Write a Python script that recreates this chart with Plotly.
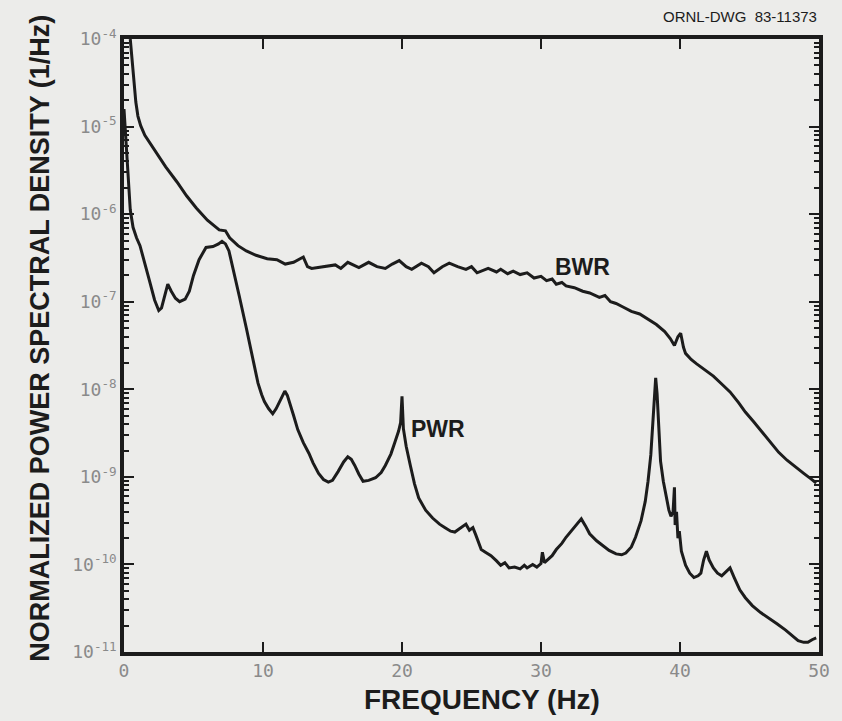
import plotly.graph_objects as go

# ---------------- data ----------------
# BWR spectrum: frequency (Hz) and log10 of normalized PSD (1/Hz)
bwr_freq = [0.45, 0.55, 0.7, 0.85, 1.0, 1.2, 1.5, 1.9, 2.35, 3.0, 3.8, 4.5, 5.2, 6.0, 6.85, 7.3,
            7.6, 8.2, 8.8, 9.5, 10.3, 11.0, 11.6, 12.2, 12.9, 13.2, 13.5, 14.2, 15.2, 15.6,
            16.1, 16.9, 17.6, 18.2, 18.8, 19.3, 19.8, 20.3, 20.7, 21.4, 21.9, 22.3, 22.9, 23.4,
            24.0, 24.6, 25.0, 25.4, 26.2, 26.8, 27.1, 27.6, 28.0, 28.5, 29.0, 29.5, 30.0, 30.4,
            30.8, 31.1, 31.5, 31.8, 32.4, 33.0, 33.5, 34.2, 34.6, 35.0, 35.4, 35.9, 36.5, 37.1,
            37.7, 38.3, 38.9, 39.3, 39.6, 39.85, 40.05, 40.25, 40.4, 40.8, 41.2, 41.8, 42.4, 43.0,
            43.6, 44.2, 44.7, 45.3, 45.9, 46.5, 47.1, 47.7, 48.3, 48.9, 49.4, 49.8]
bwr_log = [-4.0, -4.2, -4.5, -4.72, -4.88, -4.99, -5.10, -5.20, -5.31, -5.46, -5.63, -5.79, -5.93,
           -6.07, -6.18, -6.19, -6.27, -6.36, -6.42, -6.47, -6.51, -6.52, -6.57, -6.55, -6.49,
           -6.60, -6.62, -6.60, -6.58, -6.62, -6.55, -6.61, -6.55, -6.60, -6.62, -6.57, -6.53, -6.60,
           -6.63, -6.56, -6.60, -6.67, -6.60, -6.56, -6.60, -6.63, -6.60, -6.67, -6.62, -6.66, -6.63,
           -6.68, -6.65, -6.69, -6.67, -6.73, -6.71, -6.76, -6.74, -6.80, -6.78, -6.82, -6.84, -6.88,
           -6.90, -6.95, -6.93, -7.00, -7.02, -7.06, -7.11, -7.14, -7.20, -7.26, -7.34, -7.42, -7.50,
           -7.40, -7.36, -7.52, -7.59, -7.66, -7.71, -7.78, -7.85, -7.94, -8.03, -8.15, -8.26, -8.37,
           -8.49, -8.61, -8.72, -8.81, -8.88, -8.96, -9.02, -9.07]

# PWR spectrum: frequency (Hz) and log10 of normalized PSD (1/Hz)
pwr_freq = [0.0, 0.15, 0.3, 0.45, 0.65, 0.9, 1.15, 1.5, 1.85, 2.2, 2.5, 2.7, 2.95, 3.15, 3.4, 3.7,
            4.0, 4.4, 4.7, 5.0, 5.4, 5.9, 6.4, 6.8, 7.05, 7.3, 7.55, 7.9, 8.3, 8.8, 9.3, 9.64,
            9.9, 10.1, 10.4, 10.7,
            10.95, 11.2, 11.4, 11.57, 11.75, 11.9, 12.2, 12.5, 12.9, 13.3, 13.6, 14.0, 14.35, 14.7,
            15.0, 15.4, 15.8, 16.1, 16.35, 16.6, 16.9, 17.2, 17.6, 18.1, 18.5, 18.8, 19.2, 19.5,
            19.75, 19.9, 20.0, 20.1, 20.3, 20.6, 20.9, 21.2, 21.7, 22.2, 22.7, 23.1, 23.5, 23.8,
            24.2, 24.6, 24.85, 25.1, 25.3, 25.7, 26.0, 26.4, 26.8, 27.1, 27.4, 27.7, 28.1, 28.5,
            28.8, 29.0, 29.4, 29.7, 30.0, 30.1, 30.25, 30.4, 30.8, 31.1, 31.5, 31.8, 32.3, 32.9,
            33.2, 33.5, 34.0, 34.4, 34.9, 35.4, 35.8, 36.1, 36.5, 36.8, 37.2, 37.5, 37.7, 37.9,
            38.05, 38.15, 38.25, 38.35, 38.45, 38.6, 38.8, 39.0, 39.2, 39.35, 39.5, 39.6, 39.65,
            39.75, 39.85, 39.95, 40.1, 40.4, 40.7, 41.0, 41.3, 41.5, 41.7, 41.9, 42.1, 42.4, 42.7,
            43.0, 43.3, 43.6, 43.9, 44.3, 44.7, 45.2, 45.8, 46.4, 47.0, 47.6, 48.0, 48.5, 48.9,
            49.2, 49.5, 49.8]
pwr_log = [-4.8, -5.2, -5.6, -5.95, -6.15, -6.27, -6.36, -6.55, -6.77, -6.98, -7.10, -7.07, -6.90,
           -6.80, -6.88, -6.96, -7.00, -6.97, -6.88, -6.70, -6.52, -6.38, -6.37, -6.34, -6.31,
           -6.34, -6.42, -6.65, -6.94, -7.30, -7.66, -7.93, -8.06, -8.14, -8.22, -8.28,
           -8.22, -8.14, -8.06, -8.02, -8.07,
           -8.14, -8.30, -8.46, -8.61, -8.73, -8.84, -8.96, -9.03, -9.06, -9.04, -8.94, -8.83, -8.77,
           -8.80, -8.87, -8.97, -9.05, -9.04, -9.01, -8.95, -8.87, -8.74, -8.60, -8.48, -8.38, -8.08,
           -8.45, -8.65, -8.87, -9.08, -9.24, -9.38, -9.47, -9.54, -9.58, -9.62, -9.63, -9.59, -9.54,
           -9.61, -9.58, -9.66, -9.83, -9.86, -9.90, -9.96, -10.01, -9.98, -10.04, -10.03, -10.05,
           -10.01, -10.04, -10.00, -10.03, -9.99, -9.86, -9.98, -9.96, -9.90, -9.83, -9.76, -9.69,
           -9.60, -9.48, -9.56, -9.65, -9.73, -9.78, -9.84, -9.88, -9.89, -9.87, -9.80, -9.69, -9.50,
           -9.28, -9.05, -8.75, -8.35, -8.00, -7.87, -8.05, -8.40, -8.82, -9.05, -9.23, -9.38, -9.45,
           -9.40, -9.12, -9.55, -9.40, -9.70, -9.62, -9.85, -10.01, -10.10, -10.15, -10.13, -10.10,
           -9.95, -9.85, -9.95, -10.04, -10.10, -10.13, -10.08, -10.04, -10.15, -10.29, -10.38,
           -10.47, -10.55, -10.61, -10.68, -10.75, -10.80, -10.87, -10.89, -10.89, -10.86, -10.84]

x_tick_vals = [0, 10, 20, 30, 40, 50]
x_tick_text = ["0", "10", "20", "30", "40", "50"]
y_tick_exps = [-4, -5, -6, -7, -8, -9, -10, -11]
y_minor_mult = [2, 3, 4, 5, 6, 7, 8, 9]

# curve labels: (text, frequency, log10 PSD)
curve_labels = [("BWR", 33.0, -6.60), ("PWR", 22.6, -8.45)]

# ---------------- derived axis values ----------------
X_MIN, X_MAX = 0, 50
Y_MIN_EXP, Y_MAX_EXP = -11, -4
major_y = [10 ** e for e in y_tick_exps]
minor_y = [m * 10 ** e for e in y_tick_exps[1:] for m in y_minor_mult]

# ---------------- figure ----------------
INK = "#1c1c1c"
BG = "#ececea"
LABEL = "#8a8a8a"

fig = go.Figure()
fig.add_trace(go.Scatter(x=bwr_freq, y=[10 ** v for v in bwr_log], mode="lines",
                         line=dict(color=INK, width=3), name="BWR", showlegend=False,
                         hoverinfo="skip"))
fig.add_trace(go.Scatter(x=pwr_freq, y=[10 ** v for v in pwr_log], mode="lines",
                         line=dict(color=INK, width=3), name="PWR", showlegend=False,
                         hoverinfo="skip"))

for txt, fx, ly in curve_labels:
    fig.add_annotation(x=fx, y=ly, xref="x", yref="y", text=f"<b>{txt}</b>", showarrow=False,
                       font=dict(family="Liberation Sans, Arial, sans-serif", size=23, color=INK))

fig.update_layout(
    width=842, height=721,
    margin=dict(l=124, r=17, t=39, b=69),
    paper_bgcolor=BG, plot_bgcolor=BG,
    showlegend=False,
    xaxis=dict(range=[X_MIN, X_MAX], tickmode="array", tickvals=x_tick_vals, ticktext=x_tick_text,
               ticks="inside", ticklen=10, tickwidth=2, tickcolor=INK,
               showline=True, linewidth=3.5, linecolor=INK, mirror="allticks",
               showgrid=False, zeroline=False,
               tickfont=dict(family="DejaVu Sans Mono, monospace", size=18, color=LABEL)),
    yaxis=dict(type="log", range=[Y_MIN_EXP, Y_MAX_EXP], tickmode="array",
               tickvals=major_y, ticktext=[f"10<sup>{e}</sup>" for e in y_tick_exps],
               ticks="inside", ticklen=10, tickwidth=2, tickcolor=INK,
               minor=dict(tickmode="array", tickvals=minor_y, ticks="inside", ticklen=5,
                          tickwidth=1.5, tickcolor=INK, showgrid=False),
               showline=True, linewidth=3.5, linecolor=INK, mirror="allticks",
               showgrid=False, zeroline=False,
               tickfont=dict(family="DejaVu Sans Mono, monospace", size=18, color=LABEL)),
)

# axis titles
fig.add_annotation(xref="paper", yref="paper", x=0.515, y=-0.078, yanchor="middle",
                   text="<b>FREQUENCY (Hz)</b>", showarrow=False,
                   font=dict(family="Liberation Sans, Arial, sans-serif", size=28, color=INK))
fig.add_annotation(xref="paper", yref="paper", x=-0.12, y=0.512, xanchor="center", yanchor="middle",
                   text="<b>NORMALIZED POWER SPECTRAL DENSITY (1/Hz)</b>", textangle=-90,
                   showarrow=False,
                   font=dict(family="Liberation Sans, Arial, sans-serif", size=27, color=INK))
fig.add_annotation(xref="paper", yref="paper", x=1.0, y=1.0, yshift=12, xanchor="right",
                   yanchor="bottom", text="ORNL-DWG  83-11373", showarrow=False,
                   font=dict(family="Liberation Sans, Arial, sans-serif", size=15, color=INK))

fig.write_html("out.html")
